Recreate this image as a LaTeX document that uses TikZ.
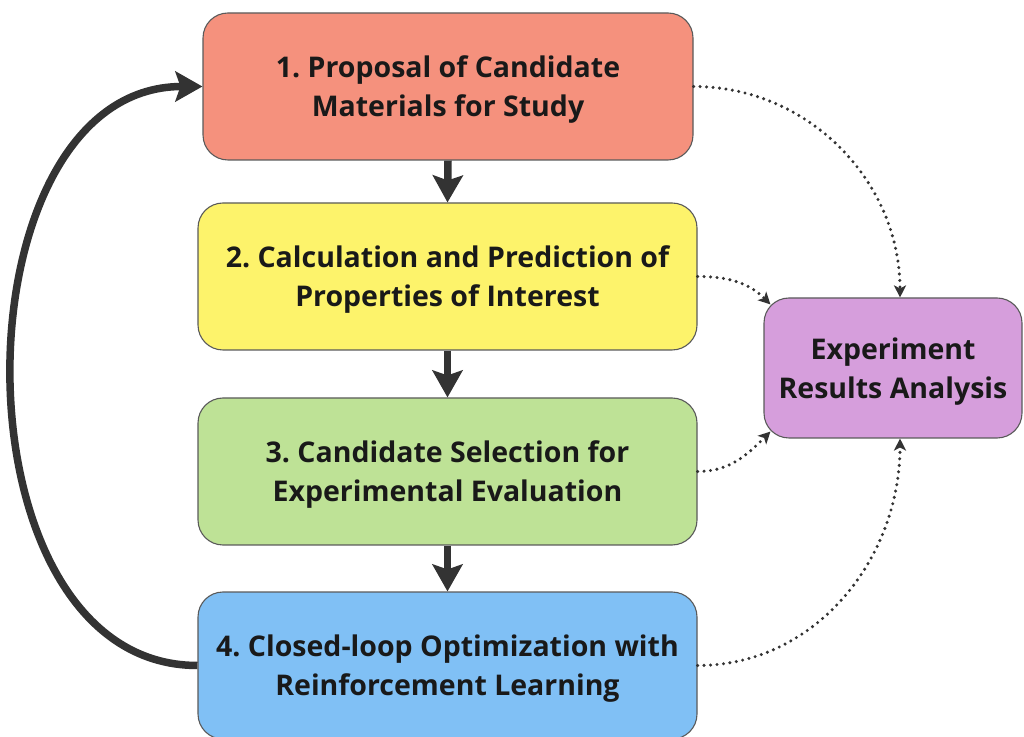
\documentclass[tikz,border=0pt]{standalone}
\usepackage{fontspec}
\setmainfont{Open Sans}
\usetikzlibrary{arrows.meta}
\frenchspacing

\definecolor{stepred}{HTML}{F5917D}
\definecolor{stepyellow}{HTML}{FDF36B}
\definecolor{stepgreen}{HTML}{BEE296}
\definecolor{stepblue}{HTML}{80C0F5}
\definecolor{steppurple}{HTML}{D69EDC}
\definecolor{arrowgray}{HTML}{333333}
\definecolor{edgegray}{HTML}{5A5A5A}

\begin{document}
\begin{tikzpicture}[x=1pt, y=1pt,
    stepbox/.style={draw=edgegray, line width=1.1pt, rounded corners=25pt,
        minimum width=499pt, minimum height=147pt, align=center, text depth=0pt,
        font=\fontsize{28.5}{39}\selectfont\bfseries, text=black!90},
    flowarrow/.style={draw=arrowgray, line width=7.5pt,
        -{Stealth[length=27pt, width=30pt, inset=5pt]}},
    feedarrow/.style={draw=arrowgray, line width=3.4pt, line cap=round,
        dash pattern=on 0pt off 6.5pt,
        -{Stealth[length=12pt, width=12pt, inset=3pt]}}]
    \useasboundingbox (0,0) rectangle (1024,736);

    % Draw the four steps
    \node[stepbox, fill=stepred, minimum width=490pt] (proposal) at (448,649.5)
        {1. Proposal of Candidate\\Materials for Study};
    \node[stepbox, fill=stepyellow] (calc) at (447.5,459.5)
        {2. Calculation and Prediction of\\Properties of Interest};
    \node[stepbox, fill=stepgreen] (select) at (447.5,264.5)
        {3. Candidate Selection for\\Experimental Evaluation};
    \node[stepbox, fill=stepblue] (closed) at (447.5,70.5)
        {4. Closed-loop Optimization with\\Reinforcement Learning};

    % Results box on the right
    \node[stepbox, fill=steppurple, minimum width=258pt, minimum height=140pt] (results) at (893,368)
        {Experiment\\Results Analysis};

    % Main flow
    \draw[flowarrow] (proposal.south) -- (calc.north);
    \draw[flowarrow] (calc.south) -- (select.north);
    \draw[flowarrow] (select.south) -- (closed.north);

    % Feedback loop back to the first step
    \draw[flowarrow] (closed.west) .. controls +(-250,0) and +(-250,0) .. (proposal.west);

    % Dotted links into the results box
    \draw[feedarrow] (proposal.east) to[out=0, in=90] ([xshift=7pt]results.north);
    \draw[feedarrow] (calc.east) to[out=0, in=135] ([shift={(7pt,-7pt)}]results.north west);
    \draw[feedarrow] (select.east) to[out=0, in=225] ([shift={(7pt,7pt)}]results.south west);
    \draw[feedarrow] (closed.east) to[out=0, in=270] ([xshift=7pt]results.south);
\end{tikzpicture}
\end{document}
